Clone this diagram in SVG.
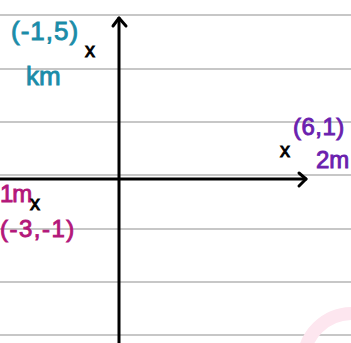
<svg xmlns="http://www.w3.org/2000/svg" width="351" height="343" viewBox="0 0 351 343">
<style>
.rule{stroke:#b4b4b4;stroke-width:1.5}
.axis{stroke:#000;stroke-width:3;fill:none;stroke-linecap:round;stroke-linejoin:round}
text{font-family:"Liberation Sans","DejaVu Sans",sans-serif;stroke-width:0.9}
.mk{font-size:20px;fill:#000;stroke:#000}
.teal{fill:#1a8ca8;stroke:#1a8ca8;font-size:26px}
.purple{fill:#6a20ae;stroke:#6a20ae;font-size:24px}
.mag{fill:#b3177a;stroke:#b3177a;font-size:24px}
</style>
<rect width="351" height="343" fill="#fff"/>
<g id="rules">
<line class="rule" x1="0" y1="15" x2="351" y2="15"/>
<line class="rule" x1="0" y1="69" x2="351" y2="69"/>
<line class="rule" x1="0" y1="122" x2="351" y2="122"/>
<line class="rule" x1="0" y1="175" x2="351" y2="175"/>
<line class="rule" x1="0" y1="229" x2="351" y2="229"/>
<line class="rule" x1="0" y1="282" x2="351" y2="282"/>
<line class="rule" x1="0" y1="335" x2="351" y2="335"/>
</g>
<circle cx="352" cy="362" r="48.5" fill="none" stroke="#fde6ef" stroke-width="13"/>
<g id="connectors">
<path class="axis" d="M119 343 V18"/>
<path class="axis" d="M113 26 L119 18 L126 26"/>
<path class="axis" d="M0 179 H306"/>
<path class="axis" d="M299 173 L306 179 L299 186"/>
</g>
<g id="p1">
<text class="teal" x="11" y="40" letter-spacing="1">(-1,5)</text>
<text class="mk" x="85" y="57">x</text>
<text class="teal" x="26" y="85">km</text>
</g>
<g id="p2">
<text class="purple" x="293" y="135" letter-spacing="0.5">(6,1)</text>
<text class="mk" x="280" y="157">x</text>
<text class="purple" x="316" y="168">2m</text>
</g>
<g id="p3">
<text class="mag" x="0" y="202" font-size="21" letter-spacing="-1">1m</text>
<text class="mk" x="30" y="210" font-size="18">x</text>
<text class="mag" x="0" y="237" letter-spacing="1.5">(-3,-1)</text>
</g>
</svg>
